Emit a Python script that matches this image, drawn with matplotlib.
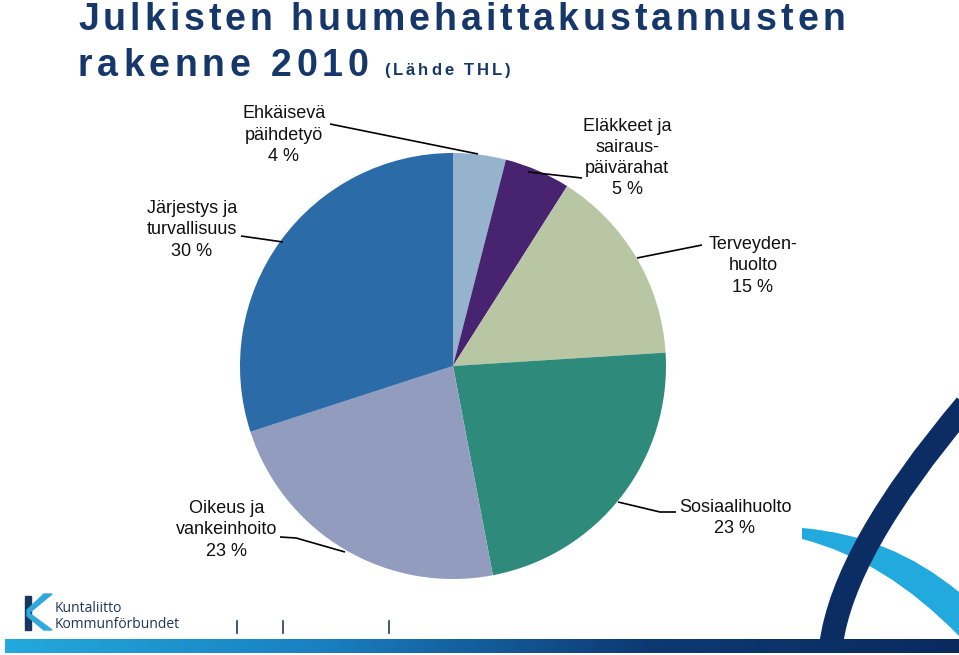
import numpy as np
import matplotlib.pyplot as plt
from matplotlib.path import Path
from matplotlib.patches import PathPatch, Rectangle, Polygon
from matplotlib.colors import LinearSegmentedColormap
from matplotlib.font_manager import FontProperties, findfont, get_font

# data
categories = ["Ehkäisevä\npäihdetyö", "Eläkkeet ja\nsairaus-\npäivärahat", "Terveyden-\nhuolto",
              "Sosiaalihuolto", "Oikeus ja\nvankeinhoito", "Järjestys ja\nturvallisuus"]
shares = [4, 5, 15, 23, 23, 30]
colors = ["#95b3cc", "#472370", "#b8c6a3", "#2e8b7c", "#929cbe", "#2a6ba8"]

W, H = 959, 655
TITLE_C = "#15376a"
FONT = ["Liberation Sans", "DejaVu Sans"]


def Y(y):
    # image row -> data y
    return H - y


def advances(s, prop):
    font = get_font(findfont(prop))
    font.set_size(prop.get_size_in_points(), 100)
    out = []
    for c in s:
        g = font.load_char(ord(c))
        out.append(g.linearHoriAdvance / 65536)
    return out


def spaced_text(ax, x, y, s, tracking, prop, **kw):
    # letter-spaced text, one glyph at a time
    adv = advances(s, prop)
    for c, a in zip(s, adv):
        ax.text(x, y, c, fontproperties=prop, va="baseline", ha="left", **kw)
        x += a + tracking
    return x


fig = plt.figure(figsize=(W / 100, H / 100), dpi=100)
ax = fig.add_axes([0, 0, 1, 1])

ax.pie(shares, colors=colors, startangle=90, counterclock=False,
       center=(453, Y(366)), radius=213, wedgeprops=dict(linewidth=0))

# label blocks: (x, y center, leader polyline)
label_pos = [
    (284, 135, [(330, 124), (478, 154)]),
    (627, 158, [(528, 172), (582, 178)]),
    (753, 266, [(637, 258), (702, 245)]),
    (735, 518, [(618, 502), (660, 512), (676, 512)]),
    (227, 530, [(280, 537), (296, 538), (345, 552)]),
    (192, 230, [(241, 236), (283, 242)]),
]
for name, val, (lx, ly, pts) in zip(categories, shares, label_pos):
    ax.text(lx, Y(ly), f"{name}\n{val} %", ha="center", va="center",
            multialignment="center", fontsize=13, family=FONT,
            color="#111111", linespacing=1.33)
    xs, ys = zip(*pts)
    ax.plot(xs, [Y(v) for v in ys], color="black", lw=1.2, solid_capstyle="butt")

# title
big = FontProperties(family=FONT, weight="bold", size=27)
small = FontProperties(family=FONT, weight="bold", size=12)
line1 = "Julkisten huumehaittakustannusten"
trk = (767 - sum(advances(line1, big))) / (len(line1) - 1)
spaced_text(ax, 78, Y(30), line1, trk, big, color=TITLE_C)
spaced_text(ax, 78, Y(76), "rakenne 2010", trk + 0.8, big, color=TITLE_C)
spaced_text(ax, 384, Y(75), "(Lähde THL)", 3.0, small, color=TITLE_C)

# bottom gradient bar
grad = LinearSegmentedColormap.from_list("bar", ["#22a9de", "#1a7fc0", "#0d3a74", "#0a2a5e"])
ax.imshow(np.linspace(0, 1, 256)[None, :], cmap=grad, aspect="auto",
          extent=(5, W, Y(653), Y(639)), zorder=3)

# separators
for sx in [237, 283, 389]:
    ax.plot([sx, sx], [Y(621), Y(633)], color="#1f3a5f", lw=1.2)

# logo
ax.add_patch(Rectangle((25, Y(630)), 6, 34, color="#17375e", zorder=4))
ax.add_patch(Polygon([(29, Y(613)), (52, Y(594)), (44, Y(594)), (27, Y(610)),
                      (27, Y(616)), (44, Y(630)), (52, Y(630))],
                     closed=True, color="#2fa8dc", zorder=5))
ax.text(55, Y(609), "Kuntaliitto", fontsize=10, family=["Open Sans", "DejaVu Sans"],
        color="#1e3658", va="center")
ax.text(55, Y(624), "Kommunförbundet", fontsize=10, family=["Open Sans", "DejaVu Sans"],
        color="#1e3658", va="center")

# right swoosh: light band under a dark arc
light = Path([(802, Y(528)), (890, Y(535)), (959, Y(592)),
              (959, Y(636)), (885, Y(560)), (802, Y(539)), (802, Y(528))],
             [Path.MOVETO, Path.CURVE3, Path.CURVE3, Path.LINETO,
              Path.CURVE3, Path.CURVE3, Path.CLOSEPOLY])
ax.add_patch(PathPatch(light, facecolor="#22a9de", edgecolor="none", zorder=2))
dark = Path([(831, Y(645)), (843.5, Y(550)), (966, Y(405))],
            [Path.MOVETO, Path.CURVE3, Path.CURVE3])
ax.add_patch(PathPatch(dark, facecolor="none", edgecolor="#0b2d63", lw=17,
                       capstyle="butt", zorder=2.5))

ax.set_xlim(0, W)
ax.set_ylim(0, H)
ax.set_aspect("auto")
ax.axis("off")

fig.savefig("out.png", dpi=100, facecolor="white")
